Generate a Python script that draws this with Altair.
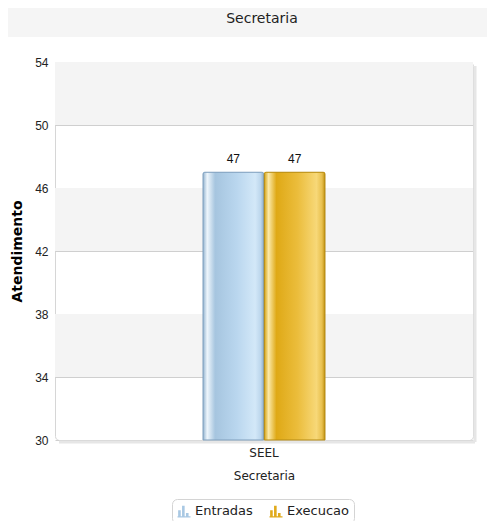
import altair as alt
import pandas as pd

# ---- data ----
categories = ["SEEL"]
series = ["Entradas", "Execucao"]
values = [47, 47]
y_ticks = [30, 34, 38, 42, 46, 50, 54]
band_lo = [50, 42, 34]
band_hi = [54, 46, 38]
chart_title = "Secretaria"
x_title = "Secretaria"
y_title = "Atendimento"

df = pd.DataFrame({
    "Secretaria": [categories[0]] * len(series),
    "Serie": series,
    "Atendimento": values,
})
bands = pd.DataFrame({"lo": band_lo, "hi": band_hi})
head = pd.DataFrame({"t": [chart_title]})

W, H = 418, 378
PL, PT, PR, PB = 47, 54, 14, 81

solid = ["#a9c8e3", "#e0aa1c"]
blue_grad = alt.Gradient(
    gradient="linear", x1=0, x2=1, y1=0, y2=0,
    stops=[
        alt.GradientStop(offset=0, color="#93b3cf"),
        alt.GradientStop(offset=0.07, color="#eef6fc"),
        alt.GradientStop(offset=0.2, color="#a6c5df"),
        alt.GradientStop(offset=0.55, color="#b9d6ee"),
        alt.GradientStop(offset=0.86, color="#d3e8f8"),
        alt.GradientStop(offset=0.95, color="#bcd6ec"),
        alt.GradientStop(offset=1, color="#8eaecb"),
    ],
)
gold_grad = alt.Gradient(
    gradient="linear", x1=0, x2=1, y1=0, y2=0,
    stops=[
        alt.GradientStop(offset=0, color="#d4a213"),
        alt.GradientStop(offset=0.07, color="#fbe9a8"),
        alt.GradientStop(offset=0.2, color="#dfa916"),
        alt.GradientStop(offset=0.55, color="#ebbd3c"),
        alt.GradientStop(offset=0.86, color="#f7d878"),
        alt.GradientStop(offset=0.95, color="#e8c04e"),
        alt.GradientStop(offset=1, color="#c09111"),
    ],
)
grads = [blue_grad, gold_grad]
strokes = ["#7f9fbd", "#b58a12"]

y_scale = alt.Scale(domain=[30, 54], nice=False, zero=False)
x_scale = alt.Scale(paddingInner=0.1757, paddingOuter=1)

yaxis = alt.Axis(
    values=y_ticks, format="d", ticks=False, domain=False, grid=True,
    gridColor={"condition": {"test": "datum.value == 54", "value": "transparent"}, "value": "#cfcfcf"},
    labelFont="Liberation Sans", labelFontSize=12, labelColor="#222", labelPadding=7,
    title=y_title, titleFont="DejaVu Sans", titleFontSize=14, titleFontWeight="bold",
    titleColor="#000", titlePadding=10,
)
xaxis = alt.Axis(
    labelAngle=0, ticks=False, domain=False,
    labelFont="DejaVu Sans", labelFontSize=12, labelColor="#222", labelPadding=7,
    title=x_title, titleFont="DejaVu Sans", titleFontSize=12, titleFontWeight="normal",
    titleColor="#222", titlePadding=12,
)

# background bands
band_layer = alt.Chart(bands).mark_rect(color="#f4f4f4").encode(
    y=alt.Y("lo:Q", scale=y_scale, axis=yaxis),
    y2="hi:Q",
    x=alt.value(0), x2=alt.value(W),
)

# shadows of the plot frame
shadow_r = alt.Chart(head).mark_rule(color="#e6e6e6", strokeWidth=3).encode(
    x=alt.value(W + 2), y=alt.value(4), y2=alt.value(H + 2))
shadow_b = alt.Chart(head).mark_rule(color="#e6e6e6", strokeWidth=3).encode(
    y=alt.value(H + 2), x=alt.value(4), x2=alt.value(W + 2))

# header band + title
header = alt.Chart(head).mark_rect(color="#f5f5f5", clip=False).encode(
    x=alt.value(-PL - 8), x2=alt.value(W + PR), y=alt.value(-PT), y2=alt.value(-25))
title_txt = alt.Chart(head).mark_text(
    font="DejaVu Sans", fontSize=14, color="#222", baseline="middle", align="center"
).encode(text="t:N", x=alt.value(W / 2 - 2), y=alt.value(-43))

base = alt.Chart(df).encode(
    x=alt.X("Secretaria:N", scale=x_scale, axis=xaxis),
    xOffset=alt.XOffset("Serie:N", scale=alt.Scale(domain=series, paddingInner=0.01)),
    y=alt.Y("Atendimento:Q", scale=y_scale, axis=yaxis),
    y2=alt.datum(y_ticks[0]),
)

legend_bars = base.mark_bar().encode(
    color=alt.Color(
        "Serie:N",
        scale=alt.Scale(domain=series, range=solid),
        legend=alt.Legend(
            title=None, orient="none", legendX=117, legendY=437, direction="horizontal",
            strokeColor="#d4d4d4", fillColor="#ffffff", cornerRadius=5, padding=5,
            labelFont="DejaVu Sans", labelFontSize=13, labelColor="#222",
            symbolType="M-0.9,0.8V-0.1H-0.5V0.8Z M-0.3,0.8V-0.8H0.1V0.8Z M0.3,0.8V0.3H0.7V0.8Z M-1,0.8H1V1H-1Z",
            symbolSize=170, symbolStrokeWidth=0, columnPadding=16, labelOffset=4,
        ),
    )
)

grad_layers = [
    base.transform_filter(alt.datum.Serie == s).mark_bar(
        fill=g, stroke=st, strokeWidth=1, cornerRadiusTopLeft=2, cornerRadiusTopRight=2
    )
    for s, g, st in zip(series, grads, strokes)
]

labels = base.mark_text(
    baseline="bottom", dy=-6, font="Liberation Sans", fontSize=12, color="#111"
).encode(text=alt.Text("Atendimento:Q", format="d"))

chart = alt.layer(
    header, title_txt, band_layer, shadow_r, shadow_b, legend_bars, *grad_layers, labels
).properties(
    width=W, height=H,
    autosize=alt.AutoSizeParams(type="none"),
    padding={"left": PL, "top": PT, "right": PR, "bottom": PB},
    background="#ffffff",
).configure_view(
    stroke="#d6d6d6", strokeWidth=1, cornerRadius=4, fill="#ffffff"
)

chart.save("out.html", embed_options={"renderer": "svg", "actions": False})
